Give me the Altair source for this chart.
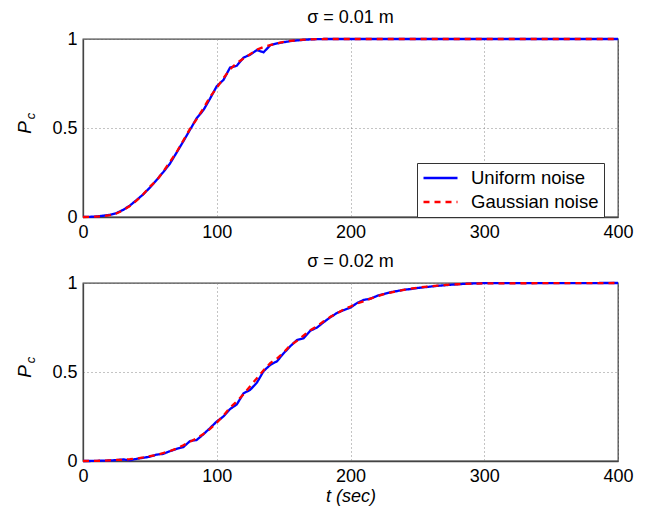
import altair as alt
import pandas as pd

NAMES = ["Uniform noise", "Gaussian noise"]

# top panel (sigma = 0.01 m)
t1 = [0, 5, 10, 15, 20, 25, 30, 35, 40, 45, 50, 55, 60, 65, 70, 75, 80, 85, 90, 95,
      100, 105, 110, 115, 120, 125, 130, 135, 140, 145, 150, 155, 160, 165, 170, 175, 180, 400]
uni1 = [0, 0.001, 0.003, 0.007, 0.012, 0.022, 0.040, 0.064, 0.095, 0.127, 0.165, 0.208,
        0.252, 0.300, 0.362, 0.425, 0.490, 0.555, 0.600, 0.665, 0.735, 0.770, 0.840, 0.850,
        0.895, 0.912, 0.938, 0.925, 0.965, 0.975, 0.982, 0.988, 0.992, 0.995, 0.998, 0.999,
        1.0, 1.0]
gau1 = [0, 0.001, 0.002, 0.005, 0.010, 0.020, 0.038, 0.062, 0.092, 0.128, 0.170, 0.205,
        0.255, 0.310, 0.365, 0.430, 0.495, 0.550, 0.610, 0.675, 0.725, 0.780, 0.830, 0.865,
        0.890, 0.915, 0.940, 0.955, 0.966, 0.976, 0.984, 0.989, 0.993, 0.996, 0.998, 0.999,
        1.0, 1.0]

# bottom panel (sigma = 0.02 m)
t2 = [0, 5, 10, 15, 20, 25, 30, 35, 40, 45, 50, 55, 60, 65, 70, 75, 80, 85, 90, 95,
      100, 105, 110, 115, 120, 125, 130, 135, 140, 145, 150, 155, 160, 165, 170, 175,
      180, 185, 190, 195, 200, 205, 210, 215, 220, 225, 230, 235, 240, 245, 250, 255,
      260, 265, 270, 275, 280, 285, 290, 295, 300, 400]
uni2 = [0, 0.000, 0.001, 0.002, 0.003, 0.005, 0.009, 0.004, 0.012, 0.018, 0.024, 0.036,
        0.040, 0.055, 0.068, 0.078, 0.112, 0.118, 0.150, 0.185, 0.222, 0.250, 0.292, 0.318,
        0.380, 0.400, 0.440, 0.505, 0.540, 0.560, 0.605, 0.645, 0.680, 0.690, 0.732, 0.750,
        0.780, 0.808, 0.832, 0.848, 0.862, 0.888, 0.905, 0.912, 0.928, 0.938, 0.948, 0.955,
        0.962, 0.966, 0.972, 0.976, 0.980, 0.984, 0.987, 0.990, 0.993, 0.995, 0.997, 0.998,
        0.999, 1.0]
gau2 = [0, 0.001, 0.001, 0.002, 0.004, 0.006, 0.007, 0.010, 0.014, 0.020, 0.027, 0.034,
        0.045, 0.056, 0.070, 0.088, 0.108, 0.128, 0.152, 0.180, 0.215, 0.255, 0.300, 0.335,
        0.375, 0.420, 0.465, 0.510, 0.550, 0.575, 0.610, 0.650, 0.675, 0.705, 0.735, 0.758,
        0.785, 0.810, 0.830, 0.852, 0.868, 0.885, 0.898, 0.912, 0.925, 0.937, 0.946, 0.955,
        0.962, 0.968, 0.973, 0.978, 0.982, 0.985, 0.988, 0.991, 0.993, 0.995, 0.996, 0.997,
        0.998, 1.0]

X_TICKS = [0, 100, 200, 300, 400]
Y_TICKS = [0, 0.5, 1]
TITLES = ["σ = 0.01 m", "σ = 0.02 m"]
FONT = "Liberation Sans"


def make_df(t, u, g):
    return pd.concat([
        pd.DataFrame({"t": t, "P": u, "noise": NAMES[0]}),
        pd.DataFrame({"t": t, "P": g, "noise": NAMES[1]}),
    ], ignore_index=True)


def panel(df, title, bottom):
    legend = alt.Legend(
        title=None, orient="none", legendX=334, legendY=124,
        fillColor="white", strokeColor="#333", padding=5, cornerRadius=0,
        symbolType="M-1,0H3", symbolSize=289, symbolStrokeWidth=2.5,
        labelFontSize=18.5, labelFont=FONT, labelColor="black", labelOffset=29,
        rowPadding=4,
    )
    color = alt.Color("noise:N", scale=alt.Scale(domain=NAMES, range=["#0000ff", "#ff0000"]),
                      legend=legend)
    dash = alt.StrokeDash("noise:N", scale=alt.Scale(domain=NAMES, range=[[1, 0], [6, 5]]),
                          legend=legend)
    xaxis = alt.Axis(values=X_TICKS, labelFlush=False, grid=True, ticks=False,
                     title="t  (sec)" if bottom else None,
                     titleFontStyle="italic", titleFontWeight="normal",
                     titleFontSize=18, titleFont=FONT, titleColor="black", titlePadding=2)
    yaxis = alt.Axis(values=Y_TICKS, format="~g", grid=True, ticks=False,
                     title="P", titleFontStyle="italic", titleFontWeight="normal",
                     titleFontSize=19, titleFont=FONT, titleColor="black",
                     titleAngle=270, titleX=-59, titleY=88,
                     titleAlign="center", titleBaseline="middle")
    x = alt.X("t:Q", scale=alt.Scale(domain=[0, 400], nice=False), axis=xaxis)
    y = alt.Y("P:Q", scale=alt.Scale(domain=[0, 1], nice=False), axis=yaxis)
    base = alt.Chart(df)
    uni = base.transform_filter(alt.datum.noise == NAMES[0]).mark_line(strokeWidth=2.3).encode(
        x=x, y=y, color=color, strokeDash=dash)
    gau = base.transform_filter(alt.datum.noise == NAMES[1]).mark_line(strokeWidth=2.3).encode(
        x=x, y=y, color=color, strokeDash=dash)
    sub = alt.Chart(pd.DataFrame({"s": ["c"]})).mark_text(
        angle=270, fontSize=13, fontStyle="italic", font=FONT, color="black"
    ).encode(text="s:N", x=alt.value(-52), y=alt.value(77))
    return alt.layer(uni, gau, sub).properties(
        width=535, height=178,
        title=alt.TitleParams(title, fontSize=18, fontWeight="normal", font=FONT,
                              color="black", anchor="middle", offset=3),
    )


top = panel(make_df(t1, uni1, gau1), TITLES[0], False)
bot = panel(make_df(t2, uni2, gau2), TITLES[1], True)

chart = alt.vconcat(top, bot, spacing=10).properties(
    padding={"left": 6, "top": 0, "right": 10, "bottom": 5}
).configure_view(stroke="#444", strokeWidth=1.3).configure_axis(
    labelFont=FONT, labelFontSize=18, labelColor="black", labelPadding=6,
    gridDash=[1, 3], gridColor="#888", gridWidth=1, gridOpacity=1,
    domainColor="#444", domainWidth=1.3,
)

chart.save("out.html", embed_options={"renderer": "svg", "actions": False})
